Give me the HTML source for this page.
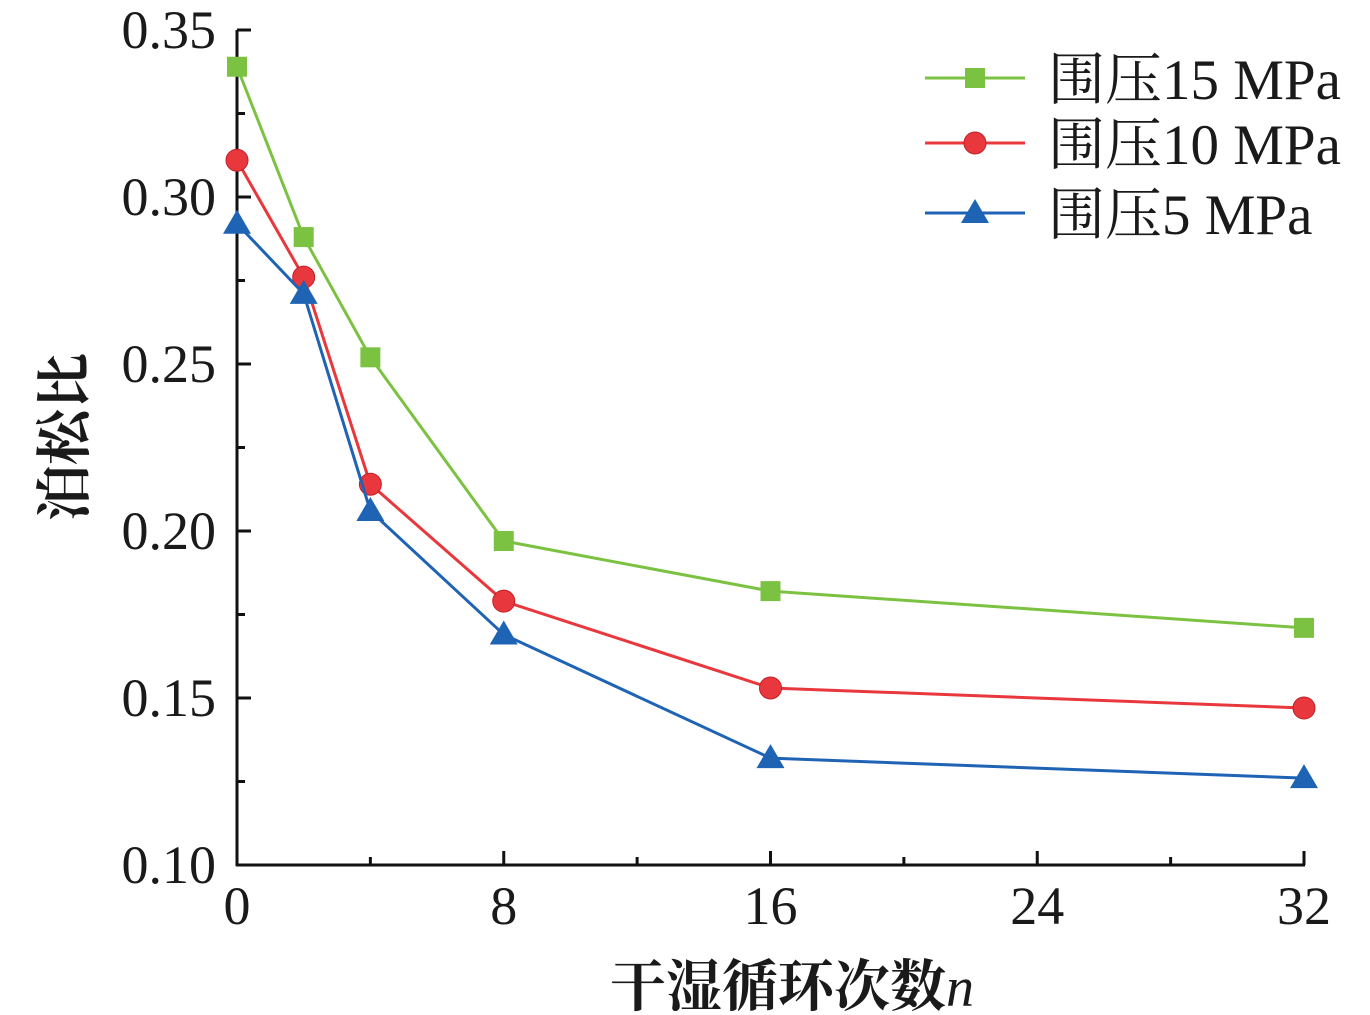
<!DOCTYPE html>
<html><head><meta charset="utf-8"><style>
body{margin:0;background:#fff}
svg{display:block}
text{font-family:"Liberation Serif","Noto Serif CJK SC",serif;fill:#1a1a1a}
</style></head><body>
<svg id="chart" width="1370" height="1015" xmlns="http://www.w3.org/2000/svg">
<g id="axes"></g>
<g id="series"></g>
<g id="legend"></g>
<text x="792" y="1006" font-size="56" text-anchor="middle" font-weight="bold">干湿循环次数<tspan font-style="italic" font-weight="normal">n</tspan></text>
<text transform="translate(84,437) rotate(-90)" font-size="56" text-anchor="middle" font-weight="bold">泊松比</text>
</svg>
<script>
const xCats=[0,2,4,8,16,32];
const s15=[0.339,0.288,0.252,0.197,0.182,0.171];
const s10=[0.311,0.276,0.214,0.179,0.153,0.147];
const s5=[0.292,0.271,0.206,0.169,0.132,0.126];
const xTicks=[0,8,16,24,32];
const yTicks=[0.10,0.15,0.20,0.25,0.30,0.35];
const seriesNames=["围压15 MPa","围压10 MPa","围压5 MPa"];
const NS="http://www.w3.org/2000/svg";
const X=v=>237+(v/32)*(1304-237);
const Y=v=>865-(v-0.10)/0.25*(865-30);
function mk(tag,attrs,parent){const e=document.createElementNS(NS,tag);for(const k in attrs)e.setAttribute(k,attrs[k]);parent.appendChild(e);return e;}
const ax=document.getElementById('axes');
let l=mk('line',{x1:237,y1:30,x2:237,y2:866,stroke:'#111','stroke-width':3},ax);


l=mk('line',{x1:236,y1:865,x2:1305,y2:865,stroke:'#111','stroke-width':3},ax);


yTicks.forEach((v,i)=>{
  const t=mk('line',{x1:237,x2:251,y1:Y(v),y2:Y(v),stroke:'#111','stroke-width':3},ax);
  
  
  if(i<yTicks.length-1){const m=mk('line',{x1:237,x2:245,y1:Y(v+0.025),y2:Y(v+0.025),stroke:'#111','stroke-width':3},ax);
  
  }
  const tx=mk('text',{x:216,y:Y(v)+18,'font-size':54,'text-anchor':'end'},ax);tx.textContent=v.toFixed(2);
  
  
});
xTicks.forEach((v,i)=>{
  const t=mk('line',{x1:X(v),x2:X(v),y1:865,y2:851,stroke:'#111','stroke-width':3},ax);
  
  
  if(i<xTicks.length-1){const m=mk('line',{x1:X(v+4),x2:X(v+4),y1:865,y2:857,stroke:'#111','stroke-width':3},ax);
  
  }
  const tx=mk('text',{x:X(v),y:924,'font-size':54,'text-anchor':'middle'},ax);tx.textContent=String(v);
  
  
});
const colors=['#7cc242','#e8383d','#1f63b5'];
const shapes=['square','circle','triangle'];
function marker(shape,cx,cy,c,p){
  let e;
  if(shape==='square')e=mk('rect',{x:cx-10,y:cy-10,width:20,height:20,fill:c},p);
  else if(shape==='circle')e=mk('circle',{cx:cx,cy:cy,r:11,fill:c,stroke:'#c02028','stroke-width':1},p);
  else e=mk('polygon',{points:`${cx},${cy-14} ${cx-14},${cy+10} ${cx+14},${cy+10}`,fill:c},p);
  return e;
}
const sg=document.getElementById('series');
[s15,s10,s5].forEach((s,si)=>{
  const g=mk('g',{},sg);
  
  
  const pl=mk('polyline',{points:s.map((v,i)=>X(xCats[i])+','+Y(v)).join(' '),fill:'none',stroke:colors[si],'stroke-width':3},g);
  
  
  s.forEach((v,i)=>{const m=marker(shapes[si],X(xCats[i]),Y(v),colors[si],g);
    
    });
});
const lg=document.getElementById('legend');
[78,143,213].forEach((y,i)=>{
  const g=mk('g',{},lg);
  
  
  mk('line',{x1:925,x2:1025,y1:y,y2:y,stroke:colors[i],'stroke-width':3},g);
  marker(shapes[i],975,y,colors[i],g);
  const t=mk('text',{x:1048,y:y+21,'font-size':57},g);t.textContent=seriesNames[i];
});
</script>
</body></html>
